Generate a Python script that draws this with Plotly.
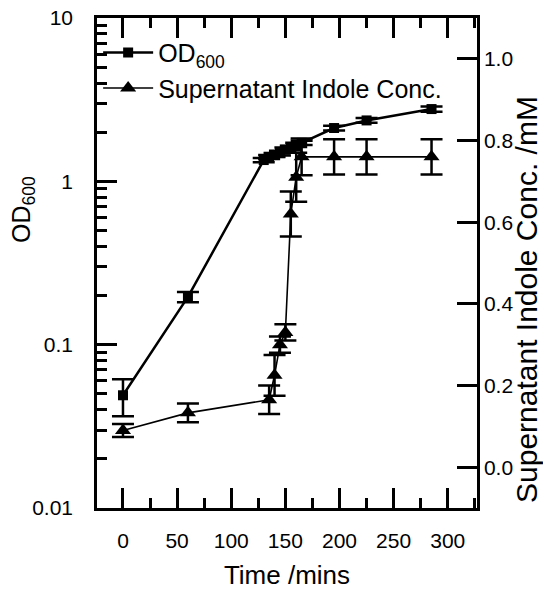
import plotly.graph_objects as go

# ---- data ----
t_od = [0, 60, 130, 135, 140, 145, 150, 155, 160, 165, 195, 225, 285]
od600 = [0.049, 0.196, 1.35, 1.41, 1.45, 1.49, 1.56, 1.60, 1.67, 1.72, 2.12, 2.36, 2.77]
od600_err = [0.0125, 0.014, 0.04, 0.04, 0.04, 0.05, 0.05, 0.05, 0.05, 0.05, 0.07, 0.08, 0.1]

t_ind = [0, 60, 135, 140, 145, 150, 155, 160, 165, 195, 225, 285]
indole = [0.09, 0.133, 0.165, 0.225, 0.30, 0.33, 0.62, 0.71, 0.76, 0.76, 0.76, 0.76]
indole_err = [0.016, 0.023, 0.035, 0.05, 0.02, 0.02, 0.055, 0.06, 0.045, 0.043, 0.043, 0.043]

x_ticks = [0, 50, 100, 150, 200, 250, 300]
y_left_ticks = [0.01, 0.1, 1, 10]
y_left_ticktext = ["0.01", "0.1", "1", "10"]
y_right_ticks = [0.0, 0.2, 0.4, 0.6, 0.8, 1.0]
y_right_ticktext = ["0.0", "0.2", "0.4", "0.6", "0.8", "1.0"]

minor_log = [m * 10 ** e for e in (-2, -1, 0) for m in range(2, 10)]

FONT = "Arial, Liberation Sans, sans-serif"
BLACK = "#000000"

L, R, T, B = 97, 66, 18, 82
W, H = 543, 590
PW, PH = W - L - R, H - T - B


def px_to_paper(xp, yp):
    return (xp - L) / PW, (H - B - yp) / PH


fig = go.Figure()

fig.add_trace(go.Scatter(
    x=t_od, y=od600, name="OD<sub>600</sub>", mode="lines+markers",
    line=dict(color=BLACK, width=2.5),
    marker=dict(symbol="square", size=10, color=BLACK),
    error_y=dict(type="data", array=od600_err, color=BLACK, thickness=2.5, width=11),
    yaxis="y",
))
fig.add_trace(go.Scatter(
    x=t_ind, y=indole, name="Supernatant Indole Conc.", mode="lines+markers",
    line=dict(color=BLACK, width=1.6),
    marker=dict(symbol="triangle-up", size=14, color=BLACK),
    error_y=dict(type="data", array=indole_err, color=BLACK, thickness=2.5, width=11),
    yaxis="y2",
))

lx, ly = px_to_paper(23, 210)
rx, ry = px_to_paper(526, 300)

fig.update_layout(
    width=W, height=H,
    margin=dict(l=L, r=R, t=T, b=B, autoexpand=False),
    paper_bgcolor="white", plot_bgcolor="white",
    font=dict(family=FONT, size=21, color=BLACK),
    showlegend=True,
    legend=dict(x=0.003, y=0.976, xanchor="left", yanchor="top",
                bgcolor="rgba(0,0,0,0)", font=dict(size=25), itemwidth=50,
                tracegroupgap=0),
    xaxis=dict(
        range=[-24, 327], tickvals=x_ticks, ticks="inside", ticklen=20, tickwidth=2.5,
        tickcolor=BLACK, showline=True, linecolor=BLACK, linewidth=2.5, mirror="ticks",
        showgrid=False, zeroline=False, ticklabelstandoff=12, automargin=False,
        minor=dict(dtick=25, tick0=0, ticks="inside", ticklen=10, tickwidth=2.5,
                   tickcolor=BLACK, showgrid=False),
        title=dict(text="Time /mins", font=dict(size=26), standoff=15),
    ),
    yaxis=dict(
        type="log", range=[-2, 1], tickvals=y_left_ticks, ticktext=y_left_ticktext,
        ticks="inside", ticklen=20, tickwidth=2.5, tickcolor=BLACK,
        showline=True, linecolor=BLACK, linewidth=2.5, showgrid=False, zeroline=False,
        ticklabelstandoff=17, automargin=False,
        minor=dict(tickmode="array", tickvals=minor_log, ticks="inside", ticklen=10,
                   tickwidth=2.5, tickcolor=BLACK, showgrid=False),
    ),
    yaxis2=dict(
        overlaying="y", side="right", range=[-0.1, 1.1],
        tickvals=y_right_ticks, ticktext=y_right_ticktext,
        ticks="inside", ticklen=20, tickwidth=2.5, tickcolor=BLACK,
        showline=True, linecolor=BLACK, linewidth=2.5, showgrid=False, zeroline=False,
        ticklabelstandoff=0, automargin=False, tickfont=dict(size=21),
    ),
    annotations=[
        dict(text="OD<sub>600</sub>", xref="paper", yref="paper", x=lx, y=ly,
             xanchor="center", yanchor="middle", textangle=-90, showarrow=False,
             font=dict(size=25)),
        dict(text="Supernatant Indole Conc. /mM", xref="paper", yref="paper", x=rx, y=ry,
             xanchor="center", yanchor="middle", textangle=-90, showarrow=False,
             font=dict(size=30)),
    ],
)

fig.write_html("out.html", config={"displayModeBar": False},
               post_script="document.body.style.margin='0px';")
